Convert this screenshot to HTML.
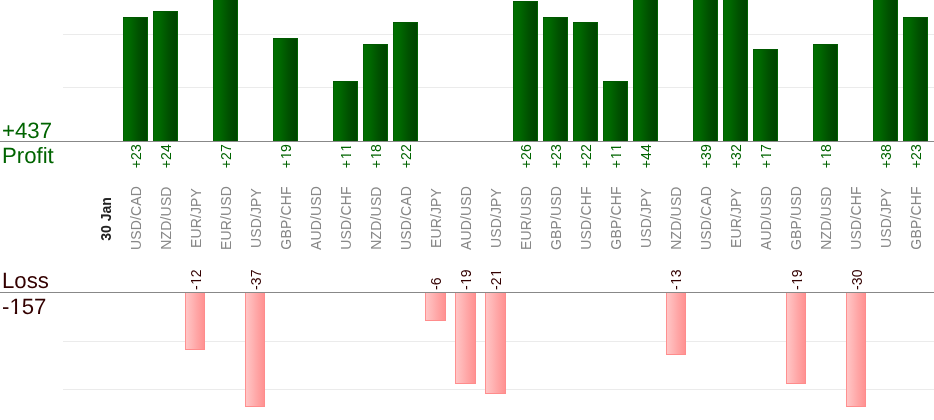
<!DOCTYPE html>
<html><head><meta charset="utf-8"><title>Profit / Loss</title>
<style>
html,body{margin:0;padding:0;background:#fff;}
body{width:934px;height:420px;overflow:hidden;position:relative;font-family:"Liberation Sans",sans-serif;}
.a{position:absolute;}
.g{position:absolute;left:63px;width:871px;height:1px;background:#ebebeb;}
.ln{position:absolute;left:0;width:934px;height:1px;background:#888;}
.pb{position:absolute;width:23px;border:1px solid #005800;border-left-color:#006000;border-right-color:#006400;border-bottom:0;
    background:linear-gradient(to right,#007000 0%,#006800 26%,#005000 65%,#004400 100%);}
.lb{position:absolute;border:1px solid #ff8c8c;border-left-color:#ff9090;border-top:0;
    background:linear-gradient(to right,#ffc6c6 0%,#ffb4b4 35%,#ffa6a6 60%,#ff9292 100%);}
.r{position:absolute;will-change:transform;transform:rotate(-90deg);transform-origin:0 0;white-space:nowrap;font-size:14px;line-height:16px;height:16px;letter-spacing:0.15px;}
.big{position:absolute;will-change:transform;left:2px;font-size:22.2px;line-height:22px;white-space:nowrap;text-rendering:geometricPrecision;}
.one{display:inline-block;position:relative;left:0.5px;clip-path:polygon(0 0,100% 0,100% 11.7px,62.5% 11.7px,62.5% 100%,44% 100%,44% 11.7px,0 11.7px);}
.big .one{left:0;clip-path:polygon(0 0,100% 0,100% 16px,62.5% 16px,62.5% 100%,44% 100%,44% 16px,0 16px);}
.pl{color:#006400;}
.ll{color:#330000;}
.cur{color:#888;text-align:center;width:100px;}
.pv{color:#006400;text-align:right;width:40px;}
.lv{color:#330000;text-align:left;width:40px;}
</style></head><body>

<div class="g" style="top:34px"></div>
<div class="g" style="top:87px"></div>
<div class="g" style="top:341px"></div>
<div class="g" style="top:389px"></div>
<div class="pb" style="left:123px;top:17px;height:123px"></div>
<div class="pb" style="left:153px;top:11px;height:129px"></div>
<div class="pb" style="left:213px;top:-6px;height:146px"></div>
<div class="pb" style="left:273px;top:38px;height:102px"></div>
<div class="pb" style="left:333px;top:81px;height:59px"></div>
<div class="pb" style="left:363px;top:44px;height:96px"></div>
<div class="pb" style="left:393px;top:22px;height:118px"></div>
<div class="pb" style="left:513px;top:1px;height:139px"></div>
<div class="pb" style="left:543px;top:17px;height:123px"></div>
<div class="pb" style="left:573px;top:22px;height:118px"></div>
<div class="pb" style="left:603px;top:81px;height:59px"></div>
<div class="pb" style="left:633px;top:-100px;height:240px"></div>
<div class="pb" style="left:693px;top:-100px;height:240px"></div>
<div class="pb" style="left:723px;top:-100px;height:240px"></div>
<div class="pb" style="left:753px;top:49px;height:91px"></div>
<div class="pb" style="left:813px;top:44px;height:96px"></div>
<div class="pb" style="left:873px;top:-100px;height:240px"></div>
<div class="pb" style="left:903px;top:17px;height:123px"></div>
<div class="lb" style="left:185px;top:292px;width:18px;height:57px"></div>
<div class="lb" style="left:245px;top:292px;width:18px;height:114px"></div>
<div class="lb" style="left:425px;top:292px;width:19px;height:28px"></div>
<div class="lb" style="left:455px;top:292px;width:19px;height:91px"></div>
<div class="lb" style="left:485px;top:292px;width:19px;height:101px"></div>
<div class="lb" style="left:666px;top:292px;width:18px;height:62px"></div>
<div class="lb" style="left:786px;top:292px;width:18px;height:91px"></div>
<div class="lb" style="left:846px;top:292px;width:18px;height:114px"></div>
<div class="ln" style="top:141px"></div>
<div class="ln" style="top:292px"></div>
<div class="big pl" style="top:120px">+437</div>
<div class="big pl" style="top:145px">Profit</div>
<div class="big ll" style="top:270px">Loss</div>
<div class="big ll" style="top:296px">-<span class="one">1</span>57</div>
<div class="r cur" style="left:128.15px;top:268.3px">USD/CAD</div>
<div class="r cur" style="left:158.15px;top:268.3px">NZD/USD</div>
<div class="r cur" style="left:188.15px;top:268.3px">EUR/JPY</div>
<div class="r cur" style="left:218.15px;top:268.3px">EUR/USD</div>
<div class="r cur" style="left:248.15px;top:268.3px">USD/JPY</div>
<div class="r cur" style="left:278.15px;top:268.3px">GBP/CHF</div>
<div class="r cur" style="left:308.15px;top:268.3px">AUD/USD</div>
<div class="r cur" style="left:338.15px;top:268.3px">USD/CHF</div>
<div class="r cur" style="left:368.15px;top:268.3px">NZD/USD</div>
<div class="r cur" style="left:398.15px;top:268.3px">USD/CAD</div>
<div class="r cur" style="left:428.15px;top:268.3px">EUR/JPY</div>
<div class="r cur" style="left:458.15px;top:268.3px">AUD/USD</div>
<div class="r cur" style="left:488.15px;top:268.3px">USD/JPY</div>
<div class="r cur" style="left:518.15px;top:268.3px">EUR/USD</div>
<div class="r cur" style="left:548.15px;top:268.3px">GBP/USD</div>
<div class="r cur" style="left:578.15px;top:268.3px">USD/CHF</div>
<div class="r cur" style="left:608.15px;top:268.3px">GBP/CHF</div>
<div class="r cur" style="left:638.15px;top:268.3px">USD/JPY</div>
<div class="r cur" style="left:668.15px;top:268.3px">NZD/USD</div>
<div class="r cur" style="left:698.15px;top:268.3px">USD/CAD</div>
<div class="r cur" style="left:728.15px;top:268.3px">EUR/JPY</div>
<div class="r cur" style="left:758.15px;top:268.3px">AUD/USD</div>
<div class="r cur" style="left:788.15px;top:268.3px">GBP/USD</div>
<div class="r cur" style="left:818.15px;top:268.3px">NZD/USD</div>
<div class="r cur" style="left:848.15px;top:268.3px">USD/CHF</div>
<div class="r cur" style="left:878.15px;top:268.3px">USD/JPY</div>
<div class="r cur" style="left:908.15px;top:268.3px">GBP/CHF</div>
<div class="r cur" style="left:98.15px;top:269px"><b style="color:#222;letter-spacing:0">30 Jan</b></div>
<div class="r pv" style="left:128.15px;top:184px">+23</div>
<div class="r pv" style="left:158.15px;top:184px">+24</div>
<div class="r pv" style="left:218.15px;top:184px">+27</div>
<div class="r pv" style="left:278.15px;top:184px">+<span class="one">1</span>9</div>
<div class="r pv" style="left:338.15px;top:184px">+<span class="one">1</span><span class="one">1</span></div>
<div class="r pv" style="left:368.15px;top:184px">+<span class="one">1</span>8</div>
<div class="r pv" style="left:398.15px;top:184px">+22</div>
<div class="r pv" style="left:518.15px;top:184px">+26</div>
<div class="r pv" style="left:548.15px;top:184px">+23</div>
<div class="r pv" style="left:578.15px;top:184px">+22</div>
<div class="r pv" style="left:608.15px;top:184px">+<span class="one">1</span><span class="one">1</span></div>
<div class="r pv" style="left:638.15px;top:184px">+44</div>
<div class="r pv" style="left:698.15px;top:184px">+39</div>
<div class="r pv" style="left:728.15px;top:184px">+32</div>
<div class="r pv" style="left:758.15px;top:184px">+<span class="one">1</span>7</div>
<div class="r pv" style="left:818.15px;top:184px">+<span class="one">1</span>8</div>
<div class="r pv" style="left:878.15px;top:184px">+38</div>
<div class="r pv" style="left:908.15px;top:184px">+23</div>
<div class="r lv" style="left:187.95px;top:290.2px">-<span class="one">1</span>2</div>
<div class="r lv" style="left:247.95px;top:290.2px">-37</div>
<div class="r lv" style="left:427.95px;top:290.2px">-6</div>
<div class="r lv" style="left:457.95px;top:290.2px">-<span class="one">1</span>9</div>
<div class="r lv" style="left:487.95px;top:290.2px">-2<span class="one">1</span></div>
<div class="r lv" style="left:667.95px;top:290.2px">-<span class="one">1</span>3</div>
<div class="r lv" style="left:788.95px;top:290.2px">-<span class="one">1</span>9</div>
<div class="r lv" style="left:848.95px;top:290.2px">-30</div>
</body></html>
